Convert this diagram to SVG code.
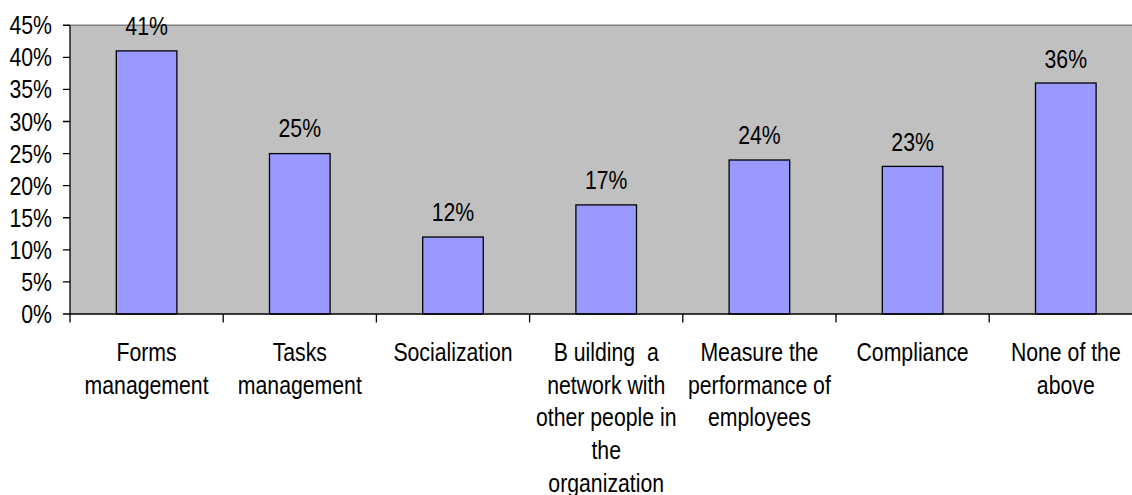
<svg xmlns="http://www.w3.org/2000/svg" width="1132" height="495" viewBox="0 0 1132 495">
<style>
text{font-family:"Liberation Sans",Arial,sans-serif;font-size:25px;fill:#000}
.ax text{text-anchor:end}
.val text,.cat text{text-anchor:middle}
.bar{fill:#9999FF;stroke:#000;stroke-width:1.3}
.ln{stroke:#000;stroke-width:1.3;fill:none}
</style>
<rect width="1132" height="495" fill="#fff"/>
<g id="plot">
<rect x="70" y="25.25" width="1070" height="288.75" fill="#C0C0C0"/>
<line x1="70" y1="25.25" x2="1132" y2="25.25" stroke="#808080" stroke-width="1.3"/>
</g>
<g id="bars">
<rect id="bar1" class="bar" x="116.3" y="50.9" width="60.6" height="263.1"/>
<rect id="bar2" class="bar" x="269.5" y="153.6" width="60.6" height="160.4"/>
<rect id="bar3" class="bar" x="422.7" y="237" width="60.6" height="77"/>
<rect id="bar4" class="bar" x="575.9" y="204.9" width="60.6" height="109.1"/>
<rect id="bar5" class="bar" x="729.1" y="160" width="60.6" height="154"/>
<rect id="bar6" class="bar" x="882.3" y="166.4" width="60.6" height="147.6"/>
<rect id="bar7" class="bar" x="1035.5" y="83" width="60.6" height="231"/>
</g>
<g id="axes" class="ln">
<path d="M70 25.25V322.5M63 314H1132"/>
<path d="M63 25.25H70M63 57.3H70M63 89.4H70M63 121.5H70M63 153.6H70M63 185.7H70M63 217.75H70M63 249.8H70M63 281.9H70"/>
<path d="M223.2 314V322.5M376.4 314V322.5M529.6 314V322.5M682.8 314V322.5M836 314V322.5M989.2 314V322.5"/>
</g>
<g id="yaxis-labels" class="ax">
<text transform="translate(52,34.2) scale(0.85,1)">45%</text>
<text transform="translate(52,66.3) scale(0.85,1)">40%</text>
<text transform="translate(52,98.4) scale(0.85,1)">35%</text>
<text transform="translate(52,130.5) scale(0.85,1)">30%</text>
<text transform="translate(52,162.6) scale(0.85,1)">25%</text>
<text transform="translate(52,194.7) scale(0.85,1)">20%</text>
<text transform="translate(52,226.7) scale(0.85,1)">15%</text>
<text transform="translate(52,258.8) scale(0.85,1)">10%</text>
<text transform="translate(52,290.9) scale(0.85,1)">5%</text>
<text transform="translate(52,323) scale(0.85,1)">0%</text>
</g>
<g id="value-labels" class="val">
<text transform="translate(146.6,35) scale(0.85,1)">41%</text>
<text transform="translate(299.8,137) scale(0.85,1)">25%</text>
<text transform="translate(453,221) scale(0.85,1)">12%</text>
<text transform="translate(606.2,189) scale(0.85,1)">17%</text>
<text transform="translate(759.4,144) scale(0.85,1)">24%</text>
<text transform="translate(912.6,150.5) scale(0.85,1)">23%</text>
<text transform="translate(1065.8,67.5) scale(0.85,1)">36%</text>
</g>
<g id="category-labels" class="cat">
<text transform="translate(146.6,361) scale(0.85,1)"><tspan x="0">Forms</tspan><tspan x="0" dy="32.7">management</tspan></text>
<text transform="translate(299.8,361) scale(0.85,1)"><tspan x="0">Tasks</tspan><tspan x="0" dy="32.7">management</tspan></text>
<text transform="translate(453,361) scale(0.85,1)">Socialization</text>
<text transform="translate(606.2,361) scale(0.85,1)" style="white-space:pre"><tspan x="0">B uilding  a</tspan><tspan x="0" dy="32.7">network with</tspan><tspan x="0" dy="32.7">other people in</tspan><tspan x="0" dy="32.7">the</tspan><tspan x="0" dy="32.7">organization</tspan></text>
<text transform="translate(759.4,361) scale(0.85,1)"><tspan x="0">Measure the</tspan><tspan x="0" dy="32.7">performance of</tspan><tspan x="0" dy="32.7">employees</tspan></text>
<text transform="translate(912.6,361) scale(0.85,1)">Compliance</text>
<text transform="translate(1065.8,361) scale(0.85,1)"><tspan x="0">None of the</tspan><tspan x="0" dy="32.7">above</tspan></text>
</g>
</svg>
